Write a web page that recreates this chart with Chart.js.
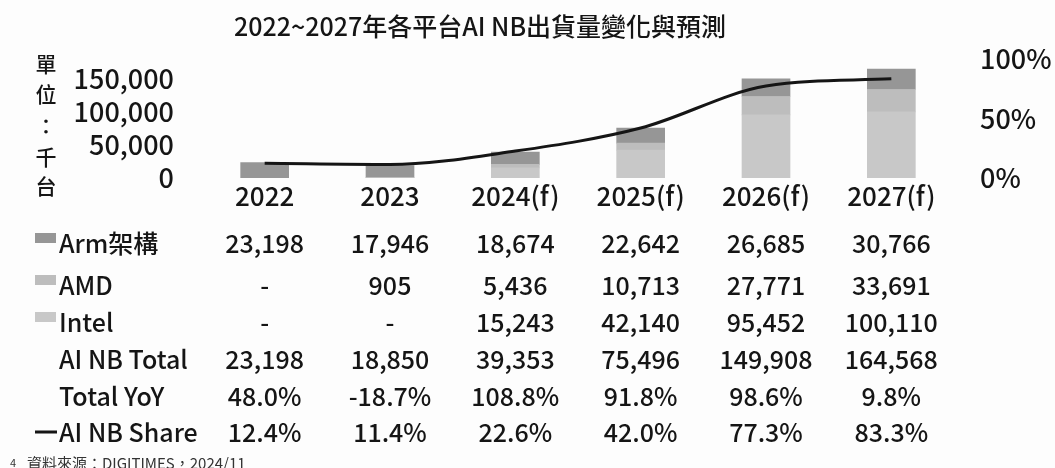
<!DOCTYPE html>
<html>
<head>
<meta charset="utf-8">
<script src="https://cdn.jsdelivr.net/npm/chart.js@4/dist/chart.umd.min.js"></script>
<style>
  html, body { margin: 0; padding: 0; background: #fdfdfd; }
  #wrap { width: 1055px; height: 468px; position: relative; }
</style>
</head>
<body>
<div id="wrap"><canvas id="c" width="1055" height="468"></canvas></div>
<script>
const categories = ['2022', '2023', '2024(f)', '2025(f)', '2026(f)', '2027(f)'];
const armValues   = [23198, 17946, 18674, 22642, 26685, 30766];
const amdValues   = [null, 905, 5436, 10713, 27771, 33691];
const intelValues = [null, null, 15243, 42140, 95452, 100110];
const totalValues = [23198, 18850, 39353, 75496, 149908, 164568];
const yoyValues   = [48.0, -18.7, 108.8, 91.8, 98.6, 9.8];
const shareValues = [12.4, 11.4, 22.6, 42.0, 77.3, 83.3];
const leftTicks = [0, 50000, 100000, 150000];
const rightTicks = [0, 50, 100];

const FONT = '"Noto Sans CJK TC", "Noto Sans", sans-serif';
const W = '500 ';
const TXT = '#151515';
const C_ARM = '#969696', C_AMD = '#bdbdbd', C_INTEL = '#c8c8c8';

const fmtNum = v => (v === null || v === undefined) ? '-' : v.toLocaleString('en-US');
const fmtPct = v => v.toFixed(1) + '%';

const overlay = {
  id: 'overlay',
  afterDraw(chart) {
    const ctx = chart.ctx;
    const x = chart.scales.x;
    ctx.save();
    ctx.fillStyle = TXT;
    // Title
    ctx.font = W + '25px ' + FONT;
    ctx.textAlign = 'center';
    ctx.textBaseline = 'middle';
    ctx.fillText('2022~2027年各平台AI NB出貨量變化與預測', 480, 26);
    // vertical unit label
    ctx.font = W + '21px ' + FONT;
    const unit = ['單', '位', '：', '千', '台'];
    const uy = [64, 94, 126, 157, 186];
    unit.forEach((ch, i) => ctx.fillText(ch, 46, uy[i]));
    // table
    const rows = [
      { label: 'Arm架構', y: 243, vals: armValues.map(fmtNum), mark: C_ARM },
      { label: 'AMD', y: 285, vals: amdValues.map(fmtNum), mark: C_AMD },
      { label: 'Intel', y: 322, vals: intelValues.map(fmtNum), mark: C_INTEL },
      { label: 'AI NB Total', y: 359, vals: totalValues.map(fmtNum) },
      { label: 'Total YoY', y: 396, vals: yoyValues.map(fmtPct) },
      { label: 'AI NB Share', y: 432, vals: shareValues.map(fmtPct), line: true }
    ];
    ctx.font = W + '25px ' + FONT;
    rows.forEach(r => {
      ctx.fillStyle = TXT;
      ctx.textAlign = 'left';
      ctx.fillText(r.label, 59, r.y);
      if (r.mark) {
        ctx.fillStyle = r.mark;
        ctx.fillRect(35, r.y - 10, 21, 10);
      }
      if (r.line) {
        ctx.fillStyle = TXT;
        ctx.fillRect(35, r.y - 1.5, 22, 3);
      }
      ctx.fillStyle = TXT;
      ctx.textAlign = 'center';
      r.vals.forEach((v, i) => ctx.fillText(v, x.getPixelForValue(i), r.y));
    });
    // source
    ctx.fillStyle = '#333';
    ctx.textAlign = 'left';
    ctx.font = '11px ' + FONT;
    ctx.fillText('4', 10, 463);
    ctx.font = '15px ' + FONT;
    ctx.fillText('資料來源：DIGITIMES，2024/11', 27, 463);
    ctx.restore();
  }
};

new Chart(document.getElementById('c'), {
  data: {
    labels: categories,
    datasets: [
      { type: 'line', label: 'AI NB Share', data: shareValues, yAxisID: 'yR', order: 0,
        borderColor: '#151515', borderWidth: 3, pointRadius: 0, tension: 0.35, fill: false,
        cubicInterpolationMode: 'monotone' },
      { type: 'bar', label: 'Intel', data: intelValues, backgroundColor: C_INTEL, yAxisID: 'y', order: 1, stack: 's', barThickness: 48 },
      { type: 'bar', label: 'AMD', data: amdValues, backgroundColor: C_AMD, yAxisID: 'y', order: 1, stack: 's', barThickness: 48 },
      { type: 'bar', label: 'Arm架構', data: armValues, backgroundColor: C_ARM, yAxisID: 'y', order: 1, stack: 's', barThickness: 48 }
    ]
  },
  options: {
    responsive: false,
    animation: false,
    layout: { padding: { top: 59, left: 0, right: 0, bottom: 0 } },
    plugins: { legend: { display: false }, tooltip: { enabled: false }, title: { display: false } },
    scales: {
      x: {
        stacked: true,
        grid: { display: false, drawTicks: false },
        border: { display: false },
        ticks: { color: TXT, font: { family: FONT, size: 26, weight: '500' }, padding: 3, maxRotation: 0 },
        afterFit(s) { s.height = 468 - 59 - 119; }
      },
      y: {
        position: 'left', stacked: true, min: 0, max: 180000,
        grid: { display: false, drawTicks: false },
        border: { display: false },
        afterBuildTicks(s) { s.ticks = leftTicks.map(v => ({ value: v })); },
        ticks: { color: TXT, font: { family: FONT, size: 27, weight: '500' }, padding: 28,
          callback: v => v.toLocaleString('en-US') },
        afterFit(s) { s.width = 202; }
      },
      yR: {
        position: 'right', min: 0, max: 100,
        grid: { display: false, drawTicks: false },
        border: { display: false },
        afterBuildTicks(s) { s.ticks = rightTicks.map(v => ({ value: v })); },
        ticks: { color: TXT, font: { family: FONT, size: 27, weight: '500' }, padding: 26,
          callback: v => v + '%' },
        afterFit(s) { s.width = 101; }
      }
    }
  },
  plugins: [overlay]
});
</script>
</body>
</html>
